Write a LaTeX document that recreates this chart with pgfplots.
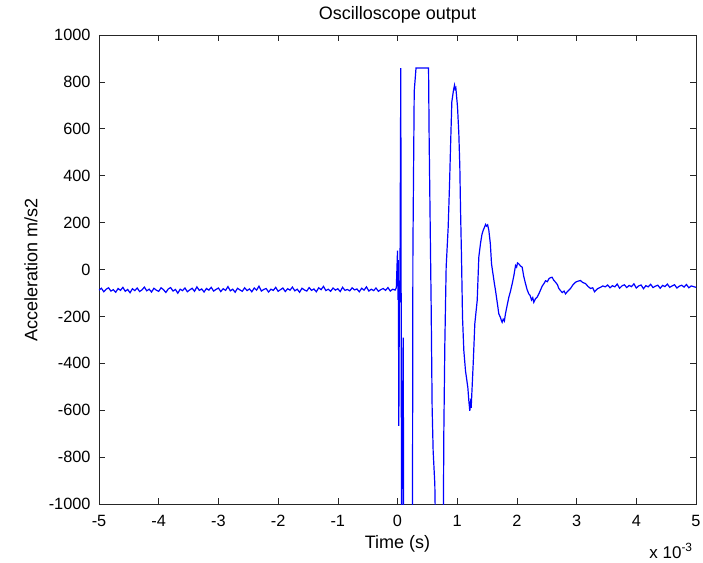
\documentclass[border=0pt]{standalone}
\usepackage{pgfplots}
\pgfplotsset{compat=1.18}
\usepackage{fontspec}
\setmainfont{Liberation Sans}
\begin{document}
\fontsize{16}{19}\selectfont
\begin{tikzpicture}
\path[use as bounding box] (-99pt,-58pt) rectangle (604pt,504pt);
\begin{axis}[
  scale only axis, width=597pt, height=469pt,
  xmin=-5, xmax=5, ymin=-1000, ymax=1000,
  xtick={-5,-4,-3,-2,-1,0,1,2,3,4,5},
  ytick={-1000,-800,-600,-400,-200,0,200,400,600,800,1000},
  tick align=inside, major tick length=6pt,
  axis line style={black!85, line width=0.6pt},
  every tick/.style={black!85, line width=0.6pt},
  /pgf/number format/assume math mode=true,
  /pgf/number format/set thousands separator={},
  ticklabel style={font=\fontsize{16.3}{19}\selectfont},
  xticklabel style={yshift=-6pt},
  yticklabel style={xshift=-3pt},
  title={Oscilloscope output},
  title style={at={(axis description cs:0.5,1.031)}, anchor=center, font=\fontsize{18}{21}\selectfont},
  xlabel={Time (s)},
  xlabel style={at={(axis description cs:0.5,-0.085)}, anchor=center, font=\fontsize{18}{21}\selectfont},
  ylabel={Acceleration m/s2},
  ylabel style={at={(axis description cs:-0.114,0.5)}, anchor=center, font=\fontsize{18}{21}\selectfont},
]
\addplot[color={rgb,1:red,0;green,0;blue,1}, line width=1.2pt] table {
-5.00 -88
-4.96 -80
-4.92 -95
-4.88 -84
-4.84 -78
-4.80 -92
-4.76 -86
-4.72 -97
-4.68 -81
-4.64 -89
-4.60 -76
-4.56 -93
-4.52 -85
-4.48 -99
-4.44 -82
-4.40 -90
-4.36 -79
-4.32 -94
-4.28 -87
-4.24 -75
-4.20 -91
-4.16 -84
-4.12 -96
-4.08 -80
-4.04 -88
-4.00 -93
-3.96 -78
-3.92 -86
-3.88 -98
-3.84 -83
-3.80 -77
-3.76 -92
-3.72 -85
-3.68 -101
-3.64 -84
-3.60 -90
-3.56 -79
-3.52 -95
-3.48 -87
-3.44 -80
-3.40 -93
-3.36 -74
-3.32 -89
-3.28 -83
-3.24 -96
-3.20 -81
-3.16 -88
-3.12 -76
-3.08 -92
-3.04 -85
-3.00 -79
-2.96 -94
-2.92 -82
-2.88 -89
-2.84 -73
-2.80 -91
-2.76 -84
-2.72 -97
-2.68 -80
-2.64 -87
-2.60 -93
-2.56 -78
-2.52 -90
-2.48 -83
-2.44 -95
-2.40 -79
-2.36 -88
-2.32 -71
-2.28 -92
-2.24 -85
-2.20 -81
-2.16 -96
-2.12 -84
-2.08 -89
-2.04 -76
-2.00 -93
-1.96 -86
-1.92 -79
-1.88 -94
-1.84 -82
-1.80 -88
-1.76 -75
-1.72 -91
-1.68 -84
-1.64 -97
-1.60 -80
-1.56 -87
-1.52 -92
-1.48 -77
-1.44 -89
-1.40 -83
-1.36 -95
-1.32 -78
-1.28 -86
-1.24 -72
-1.20 -90
-1.16 -84
-1.12 -93
-1.08 -79
-1.04 -88
-1.00 -82
-0.96 -94
-0.92 -76
-0.88 -89
-0.84 -85
-0.80 -91
-0.76 -78
-0.72 -87
-0.68 -83
-0.64 -95
-0.60 -80
-0.56 -88
-0.52 -74
-0.48 -92
-0.44 -84
-0.40 -90
-0.36 -79
-0.32 -93
-0.28 -86
-0.24 -81
-0.20 -89
-0.16 -77
-0.12 -92
-0.08 -84
-0.04 -88
-0.02 -78
0.000 80
0.008 -130
0.014 40
0.022 -667
0.032 -60
0.040 -140
0.055 859
0.068 -1200
0.095 -290
0.105 -1200
0.250 -1200
0.258 80
0.280 760
0.310 859
0.520 859
0.530 561
0.564 -161
0.580 -588
0.597 -773
0.625 -915
0.642 -1200
0.765 -1200
0.776 -695
0.793 -316
0.815 10
0.849 181
0.871 359
0.893 565
0.910 715
0.938 765
0.955 786
0.965 770
0.977 775
1.005 694
1.027 581
1.044 437
1.055 266
1.072 53
1.089 -204
1.111 -346
1.139 -432
1.178 -503
1.195 -560
1.211 -603
1.222 -570
1.234 -590
1.268 -402
1.295 -231
1.335 -132
1.362 53
1.390 111
1.415 150
1.435 167
1.460 182
1.475 192
1.491 185
1.510 190
1.530 167
1.555 110
1.575 24
1.600 -20
1.620 -55
1.642 -90
1.670 -140
1.697 -189
1.725 -205
1.740 -218
1.753 -225
1.770 -212
1.790 -220
1.809 -188
1.835 -155
1.865 -118
1.890 -95
1.921 -61
1.950 -25
1.977 17
1.995 10
2.010 28
2.032 24
2.060 15
2.088 10
2.115 -30
2.144 -60
2.170 -85
2.199 -104
2.220 -110
2.245 -130
2.265 -120
2.283 -140
2.310 -125
2.340 -118
2.367 -104
2.400 -85
2.425 -70
2.451 -61
2.480 -48
2.510 -52
2.534 -40
2.560 -35
2.590 -33
2.615 -45
2.646 -54
2.680 -65
2.700 -80
2.730 -90
2.760 -98
2.790 -92
2.814 -104
2.840 -96
2.870 -88
2.898 -81
2.940 -65
2.982 -54
3.020 -50
3.065 -47
3.100 -55
3.149 -60
3.190 -72
3.233 -81
3.270 -78
3.300 -95
3.317 -90
3.350 -82
3.400 -76
3.440 -70
3.480 -74
3.52 -66
3.56 -78
3.60 -69
3.64 -74
3.68 -62
3.72 -80
3.76 -70
3.80 -65
3.84 -77
3.88 -68
3.92 -73
3.96 -61
4.00 -79
4.04 -70
4.08 -66
4.12 -82
4.16 -69
4.20 -74
4.24 -63
4.28 -77
4.32 -71
4.36 -67
4.40 -80
4.44 -68
4.48 -73
4.52 -62
4.56 -76
4.60 -70
4.64 -65
4.68 -79
4.72 -71
4.76 -67
4.80 -75
4.84 -64
4.88 -78
4.92 -70
4.96 -73
5.00 -76
};
\end{axis}
\node at (572pt,-47pt) {\fontsize{17}{20}\selectfont x 10\textsuperscript{-3}};
\end{tikzpicture}
\end{document}
